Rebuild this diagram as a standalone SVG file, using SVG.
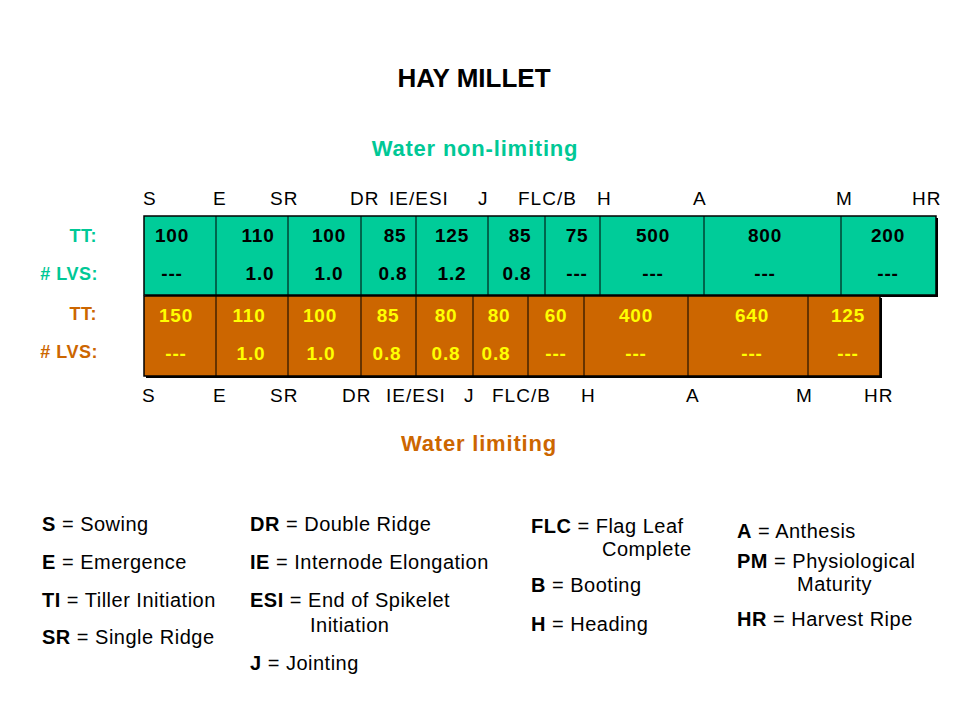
<svg xmlns="http://www.w3.org/2000/svg" width="960" height="720" viewBox="0 0 960 720">
<style>
text{font-family:"Liberation Sans",Arial,sans-serif}
.title{font-size:26px;font-weight:bold;fill:#000}
.hdr{font-size:22px;font-weight:bold;letter-spacing:0.8px}
.green{fill:#00C896}
.orange{fill:#CC6600}
.ph{font-size:19px;fill:#000;letter-spacing:1px}
.val{font-size:19px;font-weight:bold;text-anchor:middle;letter-spacing:0.8px}
.vg{fill:#000}
.vo{fill:#FFFF00}
.lab{font-size:18px;font-weight:bold;text-anchor:end;letter-spacing:0.5px}
.leg{font-size:20px;fill:#000;letter-spacing:0.5px}
.leg tspan.b{font-weight:bold}
.div{stroke:#000;stroke-width:1}
.bar{stroke:#000;stroke-width:1.5}
</style>
<rect width="960" height="720" fill="#fff"/>
<g id="titles">
<text class="title" x="474" y="87" text-anchor="middle">HAY MILLET</text>
<text class="hdr green" x="475" y="156" text-anchor="middle">Water non-limiting</text>
<text class="hdr orange" x="479" y="451" text-anchor="middle">Water limiting</text>
</g>
<g id="row-labels">
<text class="lab green" x="97" y="242">TT:</text>
<text class="lab green" x="98" y="280"># LVS:</text>
<text class="lab orange" x="97" y="320">TT:</text>
<text class="lab orange" x="98" y="358"># LVS:</text>
</g>
<g id="top-phases">
<text class="ph" x="143" y="205">S</text>
<text class="ph" x="213" y="205">E</text>
<text class="ph" x="270" y="205">SR</text>
<text class="ph" x="350" y="205">DR</text>
<text class="ph" x="389" y="205">IE/ESI</text>
<text class="ph" x="478" y="205">J</text>
<text class="ph" x="518" y="205">FLC/B</text>
<text class="ph" x="597" y="205">H</text>
<text class="ph" x="693" y="205">A</text>
<text class="ph" x="836" y="205">M</text>
<text class="ph" x="912" y="205">HR</text>
</g>
<g id="bar-nonlimiting">
<rect x="146" y="218" width="792" height="79" fill="#000"/>
<rect class="bar" x="144" y="216" width="792" height="79" fill="#00CC99"/>
<g class="div">
<line x1="216" y1="216" x2="216" y2="295"/>
<line x1="288" y1="216" x2="288" y2="295"/>
<line x1="361" y1="216" x2="361" y2="295"/>
<line x1="416" y1="216" x2="416" y2="295"/>
<line x1="488" y1="216" x2="488" y2="295"/>
<line x1="545" y1="216" x2="545" y2="295"/>
<line x1="600" y1="216" x2="600" y2="295"/>
<line x1="704" y1="216" x2="704" y2="295"/>
<line x1="841" y1="216" x2="841" y2="295"/>
</g>
<g class="val vg">
<text x="172" y="242">100</text>
<text x="258" y="242">110</text>
<text x="329" y="242">100</text>
<text x="395" y="242">85</text>
<text x="452" y="242">125</text>
<text x="520" y="242">85</text>
<text x="577" y="242">75</text>
<text x="653" y="242">500</text>
<text x="765" y="242">800</text>
<text x="888" y="242">200</text>
<text x="172" y="280">---</text>
<text x="260" y="280">1.0</text>
<text x="329" y="280">1.0</text>
<text x="393" y="280">0.8</text>
<text x="452" y="280">1.2</text>
<text x="517" y="280">0.8</text>
<text x="577" y="280">---</text>
<text x="653" y="280">---</text>
<text x="765" y="280">---</text>
<text x="888" y="280">---</text>
</g>
</g>
<g id="bar-limiting">
<rect x="146" y="298" width="736" height="80" fill="#000"/>
<rect class="bar" x="144" y="296" width="736" height="80" fill="#CC6600"/>
<g class="div">
<line x1="216" y1="296" x2="216" y2="376"/>
<line x1="288" y1="296" x2="288" y2="376"/>
<line x1="361" y1="296" x2="361" y2="376"/>
<line x1="416" y1="296" x2="416" y2="376"/>
<line x1="473" y1="296" x2="473" y2="376"/>
<line x1="528" y1="296" x2="528" y2="376"/>
<line x1="584" y1="296" x2="584" y2="376"/>
<line x1="688" y1="296" x2="688" y2="376"/>
<line x1="808" y1="296" x2="808" y2="376"/>
</g>
<g class="val vo">
<text x="176" y="322">150</text>
<text x="249" y="322">110</text>
<text x="320" y="322">100</text>
<text x="388" y="322">85</text>
<text x="446" y="322">80</text>
<text x="499" y="322">80</text>
<text x="556" y="322">60</text>
<text x="636" y="322">400</text>
<text x="752" y="322">640</text>
<text x="848" y="322">125</text>
<text x="176" y="360">---</text>
<text x="251" y="360">1.0</text>
<text x="321" y="360">1.0</text>
<text x="387" y="360">0.8</text>
<text x="446" y="360">0.8</text>
<text x="496" y="360">0.8</text>
<text x="556" y="360">---</text>
<text x="636" y="360">---</text>
<text x="752" y="360">---</text>
<text x="848" y="360">---</text>
</g>
</g>
<g id="bottom-phases">
<text class="ph" x="142" y="402">S</text>
<text class="ph" x="213" y="402">E</text>
<text class="ph" x="270" y="402">SR</text>
<text class="ph" x="342" y="402">DR</text>
<text class="ph" x="386" y="402">IE/ESI</text>
<text class="ph" x="464" y="402">J</text>
<text class="ph" x="492" y="402">FLC/B</text>
<text class="ph" x="581" y="402">H</text>
<text class="ph" x="686" y="402">A</text>
<text class="ph" x="796" y="402">M</text>
<text class="ph" x="864" y="402">HR</text>
</g>
<g id="legend">
<text class="leg" x="42" y="531"><tspan class="b">S</tspan> = Sowing</text>
<text class="leg" x="42" y="569"><tspan class="b">E</tspan> = Emergence</text>
<text class="leg" x="42" y="607"><tspan class="b">TI</tspan> = Tiller Initiation</text>
<text class="leg" x="42" y="644"><tspan class="b">SR</tspan> = Single Ridge</text>
<text class="leg" x="250" y="531"><tspan class="b">DR</tspan> = Double Ridge</text>
<text class="leg" x="250" y="569"><tspan class="b">IE</tspan> = Internode Elongation</text>
<text class="leg" x="250" y="607"><tspan class="b">ESI</tspan> = End of Spikelet</text>
<text class="leg" x="310" y="632">Initiation</text>
<text class="leg" x="250" y="670"><tspan class="b">J</tspan> = Jointing</text>
<text class="leg" x="531" y="533"><tspan class="b">FLC</tspan> = Flag Leaf</text>
<text class="leg" x="602" y="556">Complete</text>
<text class="leg" x="531" y="592"><tspan class="b">B</tspan> = Booting</text>
<text class="leg" x="531" y="631"><tspan class="b">H</tspan> = Heading</text>
<text class="leg" x="737" y="538"><tspan class="b">A</tspan> = Anthesis</text>
<text class="leg" x="737" y="568"><tspan class="b">PM</tspan> = Physiological</text>
<text class="leg" x="797" y="591">Maturity</text>
<text class="leg" x="737" y="626"><tspan class="b">HR</tspan> = Harvest Ripe</text>
</g>
</svg>
